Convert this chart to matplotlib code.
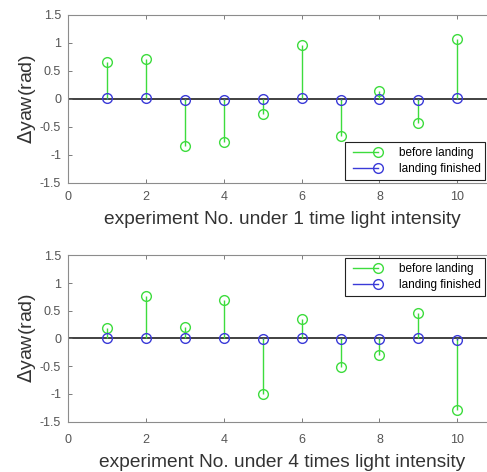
import matplotlib.pyplot as plt
from matplotlib.lines import Line2D
from matplotlib.legend_handler import HandlerLine2D

plt.rcParams['font.family'] = ['Liberation Sans', 'DejaVu Sans']

exp_no = [1, 2, 3, 4, 5, 6, 7, 8, 9, 10]

# 1 time light intensity
before_1 = [0.65, 0.70, -0.84, -0.77, -0.27, 0.96, -0.67, 0.14, -0.43, 1.06]
finished_1 = [0.01, 0.01, -0.02, -0.02, -0.01, 0.02, -0.02, 0.0, -0.02, 0.01]

# 4 times light intensity
before_4 = [0.19, 0.76, 0.20, 0.69, -1.00, 0.35, -0.52, -0.30, 0.46, -1.29]
finished_4 = [0.01, 0.01, 0.01, 0.01, -0.01, 0.01, -0.01, -0.01, 0.01, -0.02]

xlabels = ['experiment No. under 1 time light intensity',
           'experiment No. under 4 times light intensity']
legend_labels = ['before landing', 'landing finished']

green = '#3ddc3d'
blue = '#3a3ad8'
frame_col = '#8c8c8c'


class StemHandler(HandlerLine2D):
    # marker only at the right end of the legend line, like matlab stem
    def create_artists(self, *args, **kwargs):
        arts = super().create_artists(*args, **kwargs)
        for a in arts:
            a.set_markevery([len(a.get_xdata()) - 1])
        return arts


fig = plt.figure(figsize=(4.87, 4.72), dpi=100)
ax1 = fig.add_axes([0.1396, 0.613, 0.8795, 0.356])
ax2 = fig.add_axes([0.1396, 0.1066, 0.8795, 0.3525])


def draw(ax, before, finished, xlabel, loc, anchor, xpad, lpad):
    ax.vlines(exp_no, 0, before, color=green, lw=1.0, zorder=2)
    ax.plot(exp_no, before, 'o', mfc='none', mec=green, ms=7, mew=1.0, zorder=3)
    ax.vlines(exp_no, 0, finished, color=blue, lw=1.0, zorder=2)
    ax.plot(exp_no, finished, 'o', mfc='none', mec=blue, ms=7, mew=1.0, zorder=4)
    ax.axhline(0, color='#333333', lw=1.3, zorder=1)
    ax.set_xlim(0, 11)
    ax.set_ylim(-1.5, 1.5)
    ax.set_xticks([0, 2, 4, 6, 8, 10])
    ax.set_yticks([-1.5, -1, -0.5, 0, 0.5, 1, 1.5])
    ax.set_yticklabels(['-1.5', '-1', '-0.5', '0', '0.5', '1', '1.5'])
    ax.tick_params(direction='in', top=True, right=True, length=3,
                   labelsize=9, colors='#666666', width=0.6, pad=5)
    ax.tick_params(axis='x', pad=xpad)
    for tl in ax.get_xticklabels() + ax.get_yticklabels():
        tl.set_color('#555555')
    for s in ax.spines.values():
        s.set_color(frame_col)
        s.set_linewidth(0.8)
    ax.set_xlabel(xlabel, fontsize=13.8, color='#333333', labelpad=lpad)
    ax.set_ylabel(r'$\Delta$yaw(rad)', fontsize=14, color='#333333', labelpad=1)
    h1 = Line2D([0, 1], [0, 0], color=green, lw=1.0, marker='o', mfc='none',
                mec=green, ms=7)
    h2 = Line2D([0, 1], [0, 0], color=blue, lw=1.0, marker='o', mfc='none',
                mec=blue, ms=7)
    leg = ax.legend([h1, h2], legend_labels, loc=loc, bbox_to_anchor=anchor,
                    numpoints=2, fontsize=8.5,
                    fancybox=False, framealpha=1, edgecolor='#222222',
                    borderaxespad=0.25, handlelength=2.7, labelspacing=0.35,
                    borderpad=0.4, handletextpad=1.45,
                    handler_map={Line2D: StemHandler()})
    leg.get_frame().set_linewidth(0.8)


draw(ax1, before_1, finished_1, xlabels[0], 'lower right', (0.981, 0), 6, 6)
draw(ax2, before_4, finished_4, xlabels[1], 'upper right', (0.981, 1), 9, 5.5)

fig.savefig('out.png', dpi=100)
